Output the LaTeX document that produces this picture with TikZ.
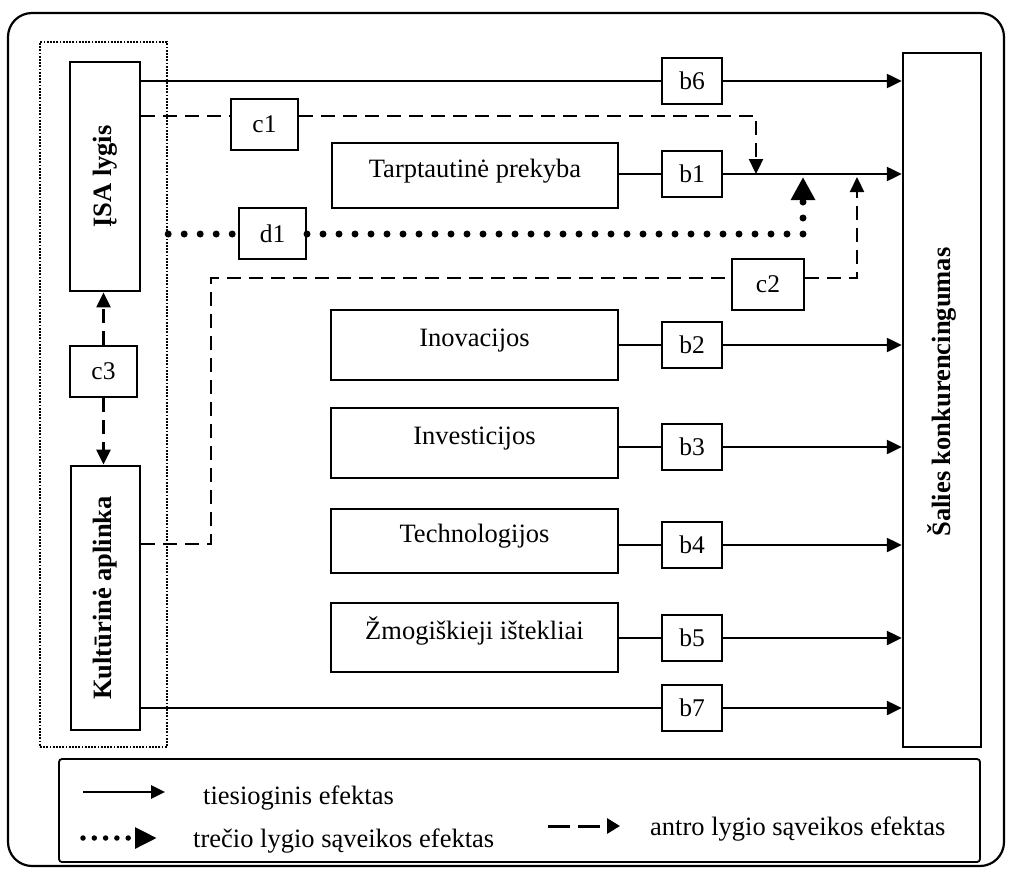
\documentclass[tikz,border=0pt]{standalone}
\usepackage{fontspec}
\setmainfont{Liberation Serif}
\usetikzlibrary{arrows.meta}
\begin{document}
\begin{tikzpicture}[x=1pt,y=-1pt,
  box/.style={draw,line width=2.8pt,inner sep=0pt},
  hbox/.style={box,font=\fontsize{26.5pt}{30pt}\selectfont,text height=18pt,text depth=14.4pt},
  lab/.style={draw,line width=2pt,inner sep=0pt,minimum width=60pt,minimum height=46pt,font=\fontsize{25.5pt}{28pt}\selectfont},
  clab/.style={lab,minimum width=67pt,minimum height=51pt},
  grpbox/.style={draw,line width=2.4pt,dash pattern=on 1.8pt off 1.4pt,inner sep=0pt},
  sline/.style={line width=2.3pt},
  arr/.style={-{Triangle[length=15pt,width=14pt]}},
  dline/.style={line width=2.3pt,dash pattern=on 14pt off 8pt},
  dotline/.style={line width=7pt,line cap=round,dash pattern=on 0pt off 16pt},
  legtext/.style={font=\fontsize{26.5pt}{30pt}\selectfont,anchor=base west,inner sep=0pt}
]
\useasboundingbox (0,0) rectangle (1009,868);
% outer frame
\draw[line width=2.2pt,rounded corners=24pt] (8,13) rectangle (1004,866);

% group and left boxes
\node[grpbox,minimum width=127pt,minimum height=705pt] (grp) at (103.5,394.5) {};
\node[box,minimum width=70pt,minimum height=229pt] (isa) at (105,176.5)
  {\rotatebox{90}{\fontsize{26.5pt}{30pt}\selectfont\bfseries ĮSA lygis}};
\node[box,minimum width=69pt,minimum height=264pt] (kult) at (105.5,598)
  {\rotatebox{90}{\fontsize{26.5pt}{30pt}\selectfont\bfseries Kultūrinė aplinka}};
\node[clab] (c3) at (103.5,371.5) {c3};

% middle boxes
\node[hbox,minimum width=286pt,minimum height=65pt] (trade) at (475,175.5) {Tarptautinė prekyba};
\node[hbox,minimum width=287pt,minimum height=70pt] (inov) at (474.5,345) {Inovacijos};
\node[hbox,minimum width=287pt,minimum height=70pt] (inv) at (474.5,443) {Investicijos};
\node[hbox,minimum width=287pt,minimum height=64pt] (tech) at (474.5,541) {Technologijos};
\node[hbox,minimum width=287pt,minimum height=69pt] (human) at (474.5,637.5) {Žmogiškieji ištekliai};

% target box
\node[box,line width=2.4pt,minimum width=78pt,minimum height=694pt] (sal) at (942,400)
  {\rotatebox{90}{\fontsize{26.5pt}{30pt}\selectfont\bfseries\hspace{16pt}Šalies konkurencingumas}};

% coefficient boxes
\node[lab] (b6) at (692,81) {b6};
\node[lab] (b1) at (692,174) {b1};
\node[lab] (b2) at (692,345) {b2};
\node[lab] (b3) at (692,447) {b3};
\node[lab] (b4) at (692,545) {b4};
\node[lab] (b5) at (692,638) {b5};
\node[lab] (b7) at (692,708) {b7};
\node[clab] (c1) at (264.5,124.5) {c1};
\node[clab] (d1) at (272.5,233.5) {d1};
\node[clab,minimum width=72pt] (c2) at (768,284.5) {c2};

% direct effects
\draw[sline] (isa.east |- b6.west) -- (b6.west);
\draw[sline,arr] (b6.east) -- (sal.west |- b6.east);
\draw[sline] (trade.east |- b1.west) -- (b1.west);
\draw[sline,arr] (b1.east) -- (sal.west |- b1.east);
\draw[sline] (inov.east |- b2.west) -- (b2.west);
\draw[sline,arr] (b2.east) -- (sal.west |- b2.east);
\draw[sline] (inv.east |- b3.west) -- (b3.west);
\draw[sline,arr] (b3.east) -- (sal.west |- b3.east);
\draw[sline] (tech.east |- b4.west) -- (b4.west);
\draw[sline,arr] (b4.east) -- (sal.west |- b4.east);
\draw[sline] (human.east |- b5.west) -- (b5.west);
\draw[sline,arr] (b5.east) -- (sal.west |- b5.east);
\draw[sline] (kult.east |- b7.west) -- (b7.west);
\draw[sline,arr] (b7.east) -- (sal.west |- b7.east);

% c1
\coordinate (c1y) at (756,116);
\draw[dline] (isa.east |- c1y) -- (c1.west |- c1y);
\draw[dline,arr] (c1.east |- c1y) -- (c1y) -- (c1y |- b1.east);

% c2
\coordinate (k1) at (211,544);
\coordinate (k2) at (211,278);
\coordinate (k3) at (857,278);
\coordinate (k4) at (857,177);
\draw[dline] (kult.east |- k1) -- (k1) -- (k2) -- (c2.west |- k2);
\draw[dline,arr] (c2.east |- k2) -- (k3) -- (k4);

% c3
\draw[dline,arr] (c3.north) -- (c3.north |- isa.south);
\draw[dline,arr] (c3.south) -- (c3.south |- kult.north);

% d1
\coordinate (d1c) at (803,234);
\coordinate (d1t) at (803,177);
\draw[dotline] (grp.east |- d1c) -- (d1.west |- d1c);
\draw[dotline,-{Triangle[length=23pt,width=23pt]}] (d1.east |- d1c) -- (d1c) -- (d1t);

% legend
\node[draw,line width=1.8pt,rounded corners=3pt,minimum width=921pt,minimum height=103pt] (leg) at (519.5,810.5) {};
\coordinate (l1a) at (83,792);
\coordinate (l1b) at (165,792);
\draw[line width=2.8pt,-{Triangle[length=14pt,width=13pt]}] (l1a) -- (l1b);
\node[legtext] (t1) at (203,804) {tiesioginis efektas};
\coordinate (l2a) at (83,838);
\coordinate (l2b) at (157,838);
\draw[line width=5.5pt,line cap=round,dash pattern=on 0pt off 11.3pt,-{Triangle[length=22pt,width=20pt]}] (l2a) -- (l2b);
\node[legtext] (t2) at (193,847) {trečio lygio sąveikos efektas};
\coordinate (l3a) at (548,826);
\coordinate (l3b) at (620,826);
\draw[line width=3pt,dash pattern=on 22pt off 8pt,-{Triangle[length=13pt,width=15pt]}] (l3a) -- (l3b);
\node[legtext] (t3) at (650,835) {antro lygio sąveikos efektas};
\end{tikzpicture}
\end{document}
